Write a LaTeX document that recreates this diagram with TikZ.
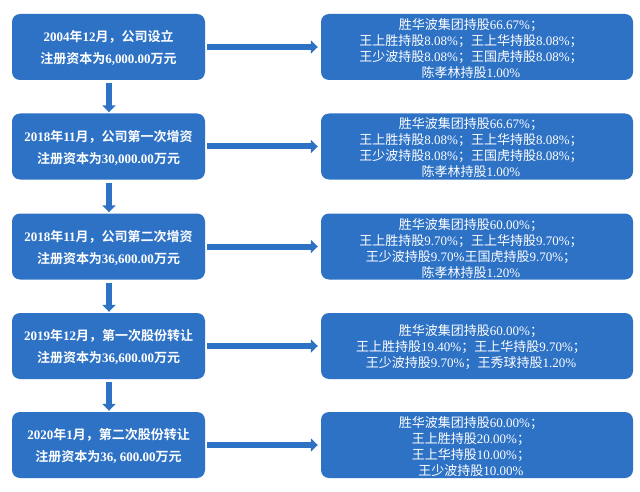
\documentclass[tikz,border=0pt]{standalone}
\usepackage{fontspec}
\setmainfont{Liberation Serif}
\newfontfamily\cjk{Noto Sans CJK SC}[BoldFont={Noto Sans CJK SC Bold}]
\usetikzlibrary{arrows.meta}
\definecolor{boxblue}{RGB}{46,114,198}
\newcommand{\zh}[1]{{\cjk #1}}
\begin{document}
\begin{tikzpicture}[x=1pt,y=-1pt,
  lbox/.style={draw=none,fill=boxblue,rounded corners=8pt,minimum width=193pt,minimum height=66pt,inner sep=0pt},
  rbox/.style={draw=none,fill=boxblue,rounded corners=8pt,minimum width=312pt,minimum height=66pt,inner sep=0pt},
  ltext/.style={text=white,align=center,font=\fontsize{13}{22}\selectfont\bfseries,inner sep=0pt},
  rtext/.style={text=white,align=center,font=\fontsize{13}{16}\selectfont,inner sep=0pt},
  arr/.style={draw=boxblue,line width=6pt,-{Triangle[length=7pt,width=13pt]}}]
\useasboundingbox (0,0) rectangle (640,492);
\fill[white] (0,0) rectangle (640,492);
% left boxes
\node[lbox] (l1) at (108.5,47) {};
\node[lbox] (l2) at (108.5,146.5) {};
\node[lbox] (l3) at (108.5,246.5) {};
\node[lbox] (l4) at (108.5,346) {};
\node[lbox] (l5) at (108.5,445) {};
\node[ltext] (lt1) at (108.5,48) {2004\zh{年}12\zh{月，公司设立}\\\zh{注册资本为}6,000.00\zh{万元}};
\node[ltext] (lt2) at (108.5,147.5) {2018\zh{年}11\zh{月，公司第一次增资}\\\zh{注册资本为}30,000.00\zh{万元}};
\node[ltext] (lt3) at (108.5,247.5) {2018\zh{年}11\zh{月，公司第二次增资}\\\zh{注册资本为}36,600.00\zh{万元}};
\node[ltext] (lt4) at (108.5,347) {2019\zh{年}12\zh{月，第一次股份转让}\\\zh{注册资本为}36,600.00\zh{万元}};
\node[ltext] (lt5) at (108.5,446) {2020\zh{年}1\zh{月，第二次股份转让}\\\zh{注册资本为}36, 600.00\zh{万元}};
% right boxes
\node[rbox] (r1) at (477,47) {};
\node[rbox] (r2) at (477,146.5) {};
\node[rbox] (r3) at (477,246.5) {};
\node[rbox] (r4) at (477,346) {};
\node[rbox] (r5) at (477,445) {};
\node[rtext] (rt1) at (471,48.5) {\zh{胜华波集团持股}66.67\%\zh{；}\\\zh{王上胜持股}8.08\%\zh{；王上华持股}8.08\%\zh{；}\\\zh{王少波持股}8.08\%\zh{；王国虎持股}8.08\%\zh{；}\\\zh{陈孝林持股}1.00\%};
\node[rtext] (rt2) at (471,148) {\zh{胜华波集团持股}66.67\%\zh{；}\\\zh{王上胜持股}8.08\%\zh{；王上华持股}8.08\%\zh{；}\\\zh{王少波持股}8.08\%\zh{；王国虎持股}8.08\%\zh{；}\\\zh{陈孝林持股}1.00\%};
\node[rtext] (rt3) at (471,248.5) {\zh{胜华波集团持股}60.00\%\zh{；}\\\zh{王上胜持股}9.70\%\zh{；王上华持股}9.70\%\zh{；}\\\zh{王少波持股}9.70\%\zh{王国虎持股}9.70\%\zh{；}\\\zh{陈孝林持股}1.20\%};
\node[rtext] (rt4) at (471,347) {\zh{胜华波集团持股}60.00\%\zh{；}\\\zh{王上胜持股}19.40\%\zh{；王上华持股}9.70\%\zh{；}\\\zh{王少波持股}9.70\%\zh{；王秀球持股}1.20\%};
\node[rtext] (rt5) at (471,446.5) {\zh{胜华波集团持股}60.00\%\zh{；}\\\zh{王上胜持股}20.00\%\zh{；}\\\zh{王上华持股}10.00\%\zh{；}\\\zh{王少波持股}10.00\%};
% horizontal arrows
\foreach \i in {1,...,5}{
  \draw[arr] ([xshift=2pt]l\i.east) -- ([xshift=-3pt]r\i.west);
}
% vertical arrows
\foreach \i/\j in {1/2,2/3,3/4,4/5}{
  \draw[arr] ([xshift=0.5pt,yshift=-3pt]l\i.south) -- ([xshift=0.5pt,yshift=1pt]l\j.north);
}
\end{tikzpicture}
\end{document}
